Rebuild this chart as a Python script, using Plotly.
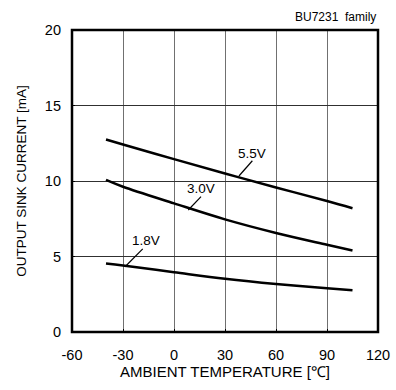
import plotly.graph_objects as go

# Output sink current vs ambient temperature (BU7231 family)
temp = [-40, -30, 0, 30, 60, 90, 105]
i_55v = [12.75, 12.42, 11.45, 10.5, 9.57, 8.68, 8.2]
i_30v = [10.07, 9.62, 8.52, 7.46, 6.56, 5.78, 5.4]
i_18v = [4.53, 4.4, 3.96, 3.53, 3.18, 2.89, 2.76]

x_ticks = [-60, -30, 0, 30, 60, 90, 120]
x_ticktext = ["-60", "-30", "0", "30", "60", "90", "120"]
y_ticks = [0, 5, 10, 15, 20]

series = [("5.5V", i_55v), ("3.0V", i_30v), ("1.8V", i_18v)]

# label text position, leader line start (on curve) and end (below label)
labels = [
    ("5.5V", (46, 11.8), (38.2, 10.33), (46.1, 11.34)),
    ("3.0V", (15.6, 9.52), (8.4, 8.08), (15.9, 8.96)),
    ("1.8V", (-16.5, 6.03), (-28.8, 4.32), (-18.4, 5.50)),
]

FONT = "Liberation Sans, Arial, sans-serif"

fig = go.Figure()
for name, vals in series:
    fig.add_trace(go.Scatter(
        x=temp, y=vals, mode="lines", name=name,
        line=dict(color="black", width=2.5, shape="spline", smoothing=1.0),
        showlegend=False,
    ))

shapes = []
annotations = []
for text, (lx, ly), (x0, y0), (x1, y1) in labels:
    annotations.append(dict(x=lx, y=ly, xref="x", yref="y", text=text,
                            showarrow=False, font=dict(size=13.5, color="black")))
    shapes.append(dict(type="line", xref="x", yref="y", x0=x0, y0=y0, x1=x1, y1=y1,
                       line=dict(color="black", width=1.2)))

# frame
shapes.append(dict(type="rect", xref="paper", yref="paper", x0=0, y0=0, x1=1, y1=1,
                   line=dict(color="black", width=2.5)))

annotations.append(dict(x=1, y=1, xref="paper", yref="paper", text="BU7231  family",
                        showarrow=False, xanchor="right", yanchor="bottom", yshift=4,
                        font=dict(size=12, color="black")))

fig.update_layout(
    width=396, height=390,
    plot_bgcolor="white", paper_bgcolor="white",
    font=dict(family=FONT, color="black", size=13),
    margin=dict(l=72, r=18, t=30, b=58),
    shapes=shapes, annotations=annotations,
    xaxis=dict(range=[-60, 120], tickvals=x_ticks, ticktext=x_ticktext,
               showgrid=True, gridcolor="#707070", gridwidth=1, automargin=False,
               ticks="inside", ticklen=3, tickcolor="black", zeroline=False,
               ticklabelstandoff=12,
               title=dict(text="AMBIENT TEMPERATURE [℃]", font=dict(size=15), standoff=2),
               tickfont=dict(size=14.5)),
    yaxis=dict(range=[0, 20], tickvals=y_ticks,
               showgrid=True, gridcolor="#303030", gridwidth=1, automargin=False,
               ticks="inside", ticklen=3, tickcolor="black", zeroline=False,
               ticklabelstandoff=10,
               title=dict(text="OUTPUT SINK CURRENT [mA]", font=dict(size=13.5), standoff=15),
               tickfont=dict(size=14.5)),
)

fig.write_html("out.html", config={"displayModeBar": False},
               post_script="document.body.style.margin='0';")
